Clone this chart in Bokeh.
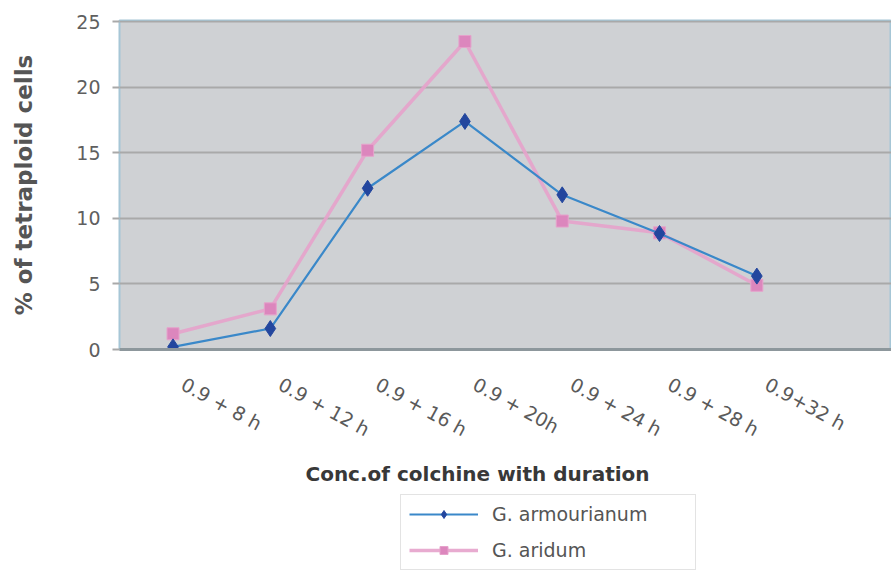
from bokeh.plotting import figure
from bokeh.layouts import column
from bokeh.models import (Range1d, FixedTicker, Label, Legend, LegendItem,
                          ColumnDataSource)
from bokeh.embed import file_html
from bokeh.resources import INLINE

categories = ["0.9 + 8 h", "0.9 + 12 h", "0.9 + 16 h", "0.9 + 20h",
              "0.9 + 24 h", "0.9 + 28 h", "0.9+32 h"]
armourianum = [0.2, 1.6, 12.3, 17.4, 11.8, 8.85, 5.6]
aridum = [1.2, 3.1, 15.2, 23.5, 9.8, 8.9, 4.9]
series_names = ["G. armourianum", "G. aridum"]
y_ticks = [0, 5, 10, 15, 20, 25]

FONT = "DejaVu Sans"
PINK_LINE, PINK_PT = "#e6a2cb", "#dc86bd"
BLUE_LINE, BLUE_PT = "#3a88c9", "#23469e"

xs = [i + 1 for i in range(len(categories))]
src = ColumnDataSource(dict(x=xs, arm=armourianum, ari=aridum))

TOP_H = 455
p = figure(width=891, height=TOP_H, output_backend="svg", toolbar_location=None,
           x_range=Range1d(0.45, 8.384), y_range=Range1d(0, 25.1),
           min_border_left=119, min_border_right=0, min_border_top=20,
           min_border_bottom=TOP_H - 349)
p.background_fill_color = "#cfd1d4"
p.border_fill_color = "white"
p.outline_line_color = "#a6c6d6"
p.outline_line_width = 2

p.xgrid.visible = False
p.ygrid.ticker = FixedTicker(ticks=y_ticks)
p.ygrid.grid_line_color = "#a9a9a9"
p.ygrid.grid_line_width = 2

# y axis
p.yaxis.ticker = FixedTicker(ticks=y_ticks)
p.yaxis.axis_line_color = None
p.yaxis.major_tick_out = 7
p.yaxis.major_tick_in = 0
p.yaxis.major_tick_line_color = "#a9a9a9"
p.yaxis.major_tick_line_width = 2
p.yaxis.minor_tick_line_color = None
p.yaxis.major_label_standoff = 12
p.yaxis.major_label_text_font = FONT
p.yaxis.major_label_text_font_size = "19px"
p.yaxis.major_label_text_color = "#5f5f5f"
p.yaxis.axis_label = "% of tetraploid cells"
p.yaxis.axis_label_text_font = FONT
p.yaxis.axis_label_text_font_style = "bold"
p.yaxis.axis_label_text_font_size = "23px"
p.yaxis.axis_label_text_color = "#555555"
p.yaxis.axis_label_standoff = 36

# x axis
label_pos = [round(x + 0.1, 2) for x in xs]
p.xaxis.ticker = FixedTicker(ticks=label_pos)
p.xaxis.major_label_overrides = {pos: lab for pos, lab in zip(label_pos, categories)}
p.xaxis.major_tick_line_color = None
p.xaxis.major_tick_out = 0
p.xaxis.major_tick_in = 0
p.xaxis.minor_tick_line_color = None
p.xaxis.axis_line_color = "#8d979c"
p.xaxis.axis_line_width = 3
p.xaxis.major_label_orientation = -0.5
p.xaxis.major_label_standoff = 33
p.xaxis.major_label_text_font = FONT
p.xaxis.major_label_text_font_size = "19px"
p.xaxis.major_label_text_color = "#5a5a5a"

# series
p.line("x", "ari", source=src, line_color=PINK_LINE, line_width=3.5, line_alpha=0.9)
p.scatter("x", "ari", source=src, marker="square", size=12,
          fill_color=PINK_PT, line_color=PINK_LINE, line_width=1)
p.line("x", "arm", source=src, line_color=BLUE_LINE, line_width=2.2)
p.scatter("x", "arm", source=src, marker="diamond", size=16,
          fill_color=BLUE_PT, line_color=BLUE_PT)

# lower strip: x-axis title and legend
BOT_H = 571 - TOP_H
FRAME_SHIFT = 119  # the lower strip's frame starts where the upper one does
q = figure(width=891, height=BOT_H, output_backend="svg", toolbar_location=None,
           x_range=Range1d(100, 101), y_range=Range1d(100, 101),
           x_axis_location=None, y_axis_location=None,
           min_border_left=0, min_border_right=0, min_border_top=0,
           min_border_bottom=0)
q.outline_line_color = None
q.grid.visible = False
q.background_fill_color = "white"
q.border_fill_color = "white"

xtitle = Label(x=477 - FRAME_SHIFT, y=571 - 473, x_units="screen", y_units="screen",
               text="Conc.of colchine with duration", text_align="center",
               text_baseline="middle", text_font=FONT, text_font_style="bold",
               text_font_size="20px", text_color="#383838")
q.add_layout(xtitle)

# same series, out of this strip's view, so that the legend can show them
lb_line = q.line("x", "arm", source=src, line_color=BLUE_LINE, line_width=2.2)
lb_pts = q.scatter("x", "arm", source=src, marker="diamond", size=16,
                   fill_color=BLUE_PT, line_color=BLUE_PT)
lp_line = q.line("x", "ari", source=src, line_color=PINK_LINE, line_width=3.5,
                 line_alpha=0.9)
lp_pts = q.scatter("x", "ari", source=src, marker="square", size=12,
                   fill_color=PINK_PT, line_color=PINK_LINE, line_width=1)

legend = Legend(items=[LegendItem(label=series_names[0], renderers=[lb_line, lb_pts]),
                       LegendItem(label=series_names[1], renderers=[lp_line, lp_pts])],
                location=(400 - FRAME_SHIFT, 1), orientation="vertical",
                padding=8, margin=0, spacing=14, glyph_width=69, glyph_height=20,
                label_height=20, label_width=195, label_standoff=14,
                label_text_font=FONT, label_text_font_size="19px",
                label_text_color="#555555", border_line_color="#c8c8c8",
                border_line_width=1, background_fill_color="white",
                background_fill_alpha=1.0)
q.add_layout(legend)

layout = column(p, q, spacing=0)
open("out.html", "w").write(file_html(layout, INLINE))
